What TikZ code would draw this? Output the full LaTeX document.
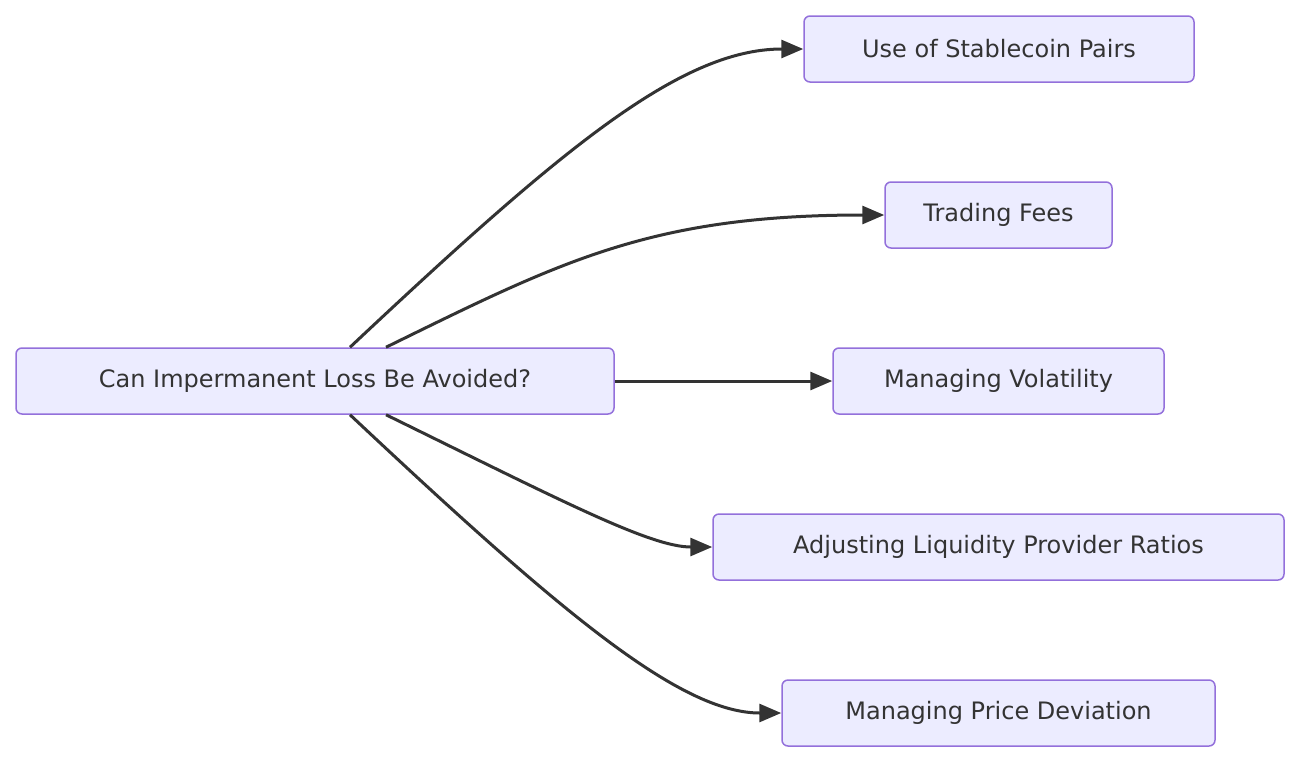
\documentclass[tikz,border=0pt]{standalone}
\usepackage{fontspec}
\setmainfont{DejaVu Sans}
\usetikzlibrary{arrows.meta}
\definecolor{boxfill}{HTML}{ECECFF}
\definecolor{boxline}{HTML}{9370DB}
\definecolor{ink}{HTML}{333333}
\tikzset{
  box/.style={draw=boxline,fill=boxfill,line width=1.5pt,rounded corners=6pt,
    minimum height=66pt,inner sep=0pt,text=ink,font=\fontsize{24}{28}\selectfont},
  link/.style={draw=ink,line width=3pt,-{Triangle[length=22pt,width=18pt]}}
}
\begin{document}
\begin{tikzpicture}[x=1pt,y=-1pt]
\useasboundingbox (0,0) rectangle (1316,772);

\node (loss) at (315,381) [box,minimum width=598pt] {Can Impermanent Loss Be Avoided?};

\node (stable) at (999,49) [box,minimum width=390pt] {Use of Stablecoin Pairs};
\node (fees) at (998.5,215) [box,minimum width=227pt] {Trading Fees};
\node (vol) at (998.5,381) [box,minimum width=331pt] {Managing Volatility};
\node (ratio) at (998.5,547) [box,minimum width=571pt] {Adjusting Liquidity Provider Ratios};
\node (dev) at (998.5,713) [box,minimum width=433pt] {Managing Price Deviation};

\draw [link] ([xshift=35pt]loss.north) .. controls (560,150) and (680,49) .. (stable.west);
\draw [link] ([xshift=71pt]loss.north) .. controls (560,262) and (650,215) .. (fees.west);
\draw [link] (loss.east) -- (vol.west);
\draw [link] ([xshift=71pt]loss.south) .. controls (560,500) and (650,547) .. (ratio.west);
\draw [link] ([xshift=35pt]loss.south) .. controls (560,612) and (680,713) .. (dev.west);
\end{tikzpicture}
\end{document}
